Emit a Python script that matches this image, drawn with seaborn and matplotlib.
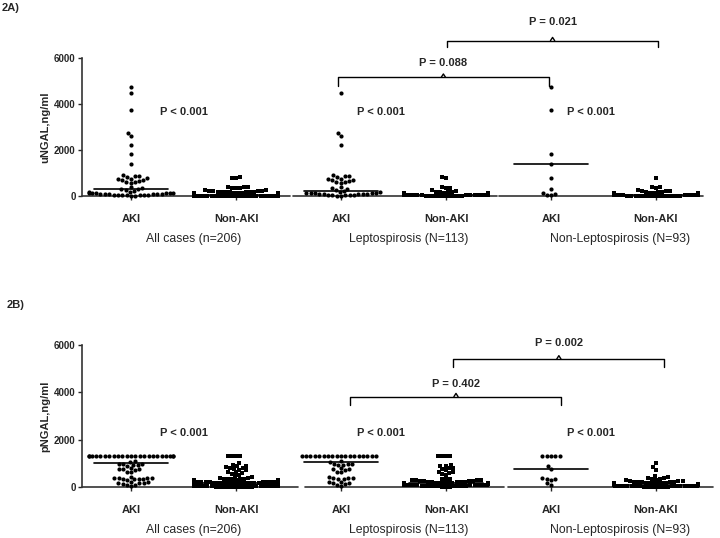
import matplotlib
matplotlib.use("Agg")
import matplotlib.pyplot as plt
import numpy as np
import pandas as pd
import seaborn as sns

# ---- data ----
group_order = ["AKI_all", "NonAKI_all", "AKI_lep", "NonAKI_lep", "AKI_nonlep", "NonAKI_nonlep"]
tick_labels = ["AKI", "Non-AKI", "AKI", "Non-AKI", "AKI", "Non-AKI"]
cohort_labels = ["All cases (n=206)", "Leptospirosis (N=113)", "Non-Leptospirosis (N=93)"]

# urine NGAL (panel 2A)
u_aki_lep = [4465, 2720, 2600, 2220,
             900, 880, 850, 820, 760, 720, 700, 680, 650, 620, 600, 560,
             380, 340, 300, 260,
             200, 180, 160, 150, 140, 130, 120, 110, 100, 95,
             90, 80, 70, 60, 55, 50, 40, 30, 20, 10]
u_aki_nonlep = [4750, 3740, 1830, 1380, 770, 290, 150, 90, 60, 40]
u_nonaki_lep = [810, 790, 370, 350, 330, 250,
                200, 190, 180, 170, 160, 150, 150, 140,
                130, 130, 120, 120, 120, 110, 110, 110, 100, 100,
                100, 100, 90, 90, 90, 90, 85, 85, 80, 80,
                80, 80, 75, 75, 70, 70, 70, 65, 65, 60,
                60, 60, 55, 55, 50, 50, 50, 45, 45, 40,
                40, 40, 35, 35, 30, 30, 30, 25, 25, 20,
                20, 20, 15, 15, 10, 10, 5, 5, 0]
u_nonaki_nonlep = [800, 400, 370, 340, 240, 220, 210, 200,
                   180, 170, 160, 150, 150, 140, 140, 130, 130, 120,
                   120, 120, 110, 110, 110, 100, 100, 100, 100, 95,
                   90, 90, 90, 85, 85, 80, 80, 80, 80, 75,
                   75, 70, 70, 70, 70, 65, 65, 60, 60, 60,
                   60, 55, 55, 50, 50, 50, 45, 45, 40, 40,
                   40, 40, 35, 35, 30, 30, 30, 25, 25, 20,
                   20, 20, 15, 15, 15, 10, 10, 10, 5, 5,
                   5, 0, 0]
u_medians = [290, 60, 230, 60, 1380, 60]

# plasma NGAL (panel 2B)
p_aki_lep = [1300, 1300, 1300, 1300, 1300, 1300, 1300, 1300, 1300,
             1300, 1300, 1300, 1300, 1300, 1300, 1300, 1300, 1300,
             1100, 1050, 990, 970, 960, 950, 940, 800, 760, 740, 720, 650, 620,
             420, 400, 380, 360, 350, 330, 220, 200, 180, 150, 120, 80, 40]
p_aki_nonlep = [1300, 1300, 1300, 1300, 1300, 890, 775, 380, 350, 330, 300, 150, 100]
p_nonaki_lep = [1300, 1300, 1300, 1300,
                950, 900, 880, 820, 800, 760, 700, 650, 620, 600, 550, 500,
                350, 340, 320, 300, 300, 290, 280, 270, 260, 250,
                240, 230, 220, 210, 200, 200, 190, 180, 180, 170,
                160, 160, 150, 150, 140, 140, 130, 130, 120, 120,
                110, 110, 100, 100, 100, 90, 90, 80, 80, 80,
                70, 70, 60, 60, 60, 50, 50, 40, 40, 30,
                30, 20, 20, 10]
p_nonaki_nonlep = [1000, 850, 720, 460, 420, 400, 380, 330, 320, 300,
                   280, 260, 250, 240, 230, 220, 210, 200, 200, 190,
                   180, 170, 160, 160, 150, 150, 140, 140, 130, 130,
                   120, 120, 120, 110, 110, 100, 100, 100, 95, 90,
                   90, 85, 80, 80, 80, 75, 70, 70, 65, 60,
                   60, 60, 55, 50, 50, 45, 40, 40, 40, 35,
                   30, 30, 25, 20, 20, 20, 15, 10, 10, 5]
p_medians = [1030, 150, 1070, 150, 775, 100]

# p-values between neighbouring columns and across cohorts
p_within = ["P < 0.001", "P < 0.001", "P < 0.001"]
p_within_x = [0.5, 2.38, 4.38]
u_brackets = [("P = 0.088", 1.97, 3.98, 5165, 4785, 5785),
              ("P = 0.021", 3.01, 5.02, 6755, 6495, 7570)]
p_brackets = [("P = 0.402", 2.09, 4.10, 3815, 3465, 4350),
              ("P = 0.002", 3.07, 5.08, 5410, 5070, 6085)]


def make_frame(aki_lep, aki_nonlep, nonaki_lep, nonaki_nonlep):
    groups = {
        "AKI_all": aki_lep + aki_nonlep,
        "NonAKI_all": nonaki_lep + nonaki_nonlep,
        "AKI_lep": aki_lep,
        "NonAKI_lep": nonaki_lep,
        "AKI_nonlep": aki_nonlep,
        "NonAKI_nonlep": nonaki_nonlep,
    }
    rows = [(g, v) for g, vals in groups.items() for v in vals]
    df = pd.DataFrame(rows, columns=["group", "value"])
    df["aki"] = df["group"].str.startswith("AKI")
    return df


def draw_panel(ax, df, medians, ylabel, brackets, ptext_y, segments, label_y):
    sns.swarmplot(data=df[df["aki"]], x="group", y="value", order=group_order,
                  color="black", marker="o", size=3.0, warn_thresh=1, ax=ax)
    sns.swarmplot(data=df[~df["aki"]], x="group", y="value", order=group_order,
                  color="black", marker="s", size=2.8, warn_thresh=1, ax=ax)
    for c in ax.collections:
        c.set_clip_on(False)

    # median lines
    for i, m in enumerate(medians):
        ax.plot([i - 0.35, i + 0.35], [m, m], color="black", lw=1.2, zorder=3)

    ax.set_xlim(-0.467, 5.543)
    ax.set_ylim(0, 6000)
    ax.set_yticks([0, 2000, 4000, 6000])
    ax.set_yticklabels(["0", "2000", "4000", "6000"], fontsize=7, fontweight="bold")
    ax.set_xticks(range(6))
    ax.set_xticklabels(tick_labels, fontsize=8, fontweight="bold")
    ax.tick_params(axis="x", length=3, width=1, pad=10, direction="out", bottom=True)
    ax.tick_params(axis="y", length=3, width=1, pad=1.5, direction="out", left=True)
    ax.set_xlabel("")
    ax.set_ylabel(ylabel, fontsize=8, fontweight="bold")
    ax.yaxis.set_label_coords(-0.050, 0.5)

    for side in ["top", "right", "bottom"]:
        ax.spines[side].set_visible(False)
    ax.spines["left"].set_color("#333333")
    ax.spines["left"].set_linewidth(1.2)

    # broken x axis, one piece per cohort
    for x0, x1 in segments:
        ax.plot([x0, x1], [0, 0], color="#333333", lw=1.2, clip_on=False, zorder=1)

    for lab, x in zip(p_within, p_within_x):
        ax.text(x, ptext_y, lab, ha="center", va="center", fontsize=8, fontweight="bold")

    for lab, x1, x2, yh, yend, ty in brackets:
        xm = (x1 + x2) / 2
        ax.plot([x1, x1, x2, x2], [yend, yh, yh, yend], color="black", lw=1, clip_on=False)
        ax.plot([xm - 0.02, xm, xm + 0.02], [yh, yh + 140, yh], color="black", lw=1, clip_on=False)
        ax.text(xm, ty, lab, ha="center", va="center", fontsize=8, fontweight="bold")

    trans = ax.get_xaxis_transform()
    for lab, x in zip(cohort_labels, [0.6, 2.64, 4.66]):
        ax.text(x, label_y, lab, ha="center", va="center", fontsize=8.8, transform=trans)


sns.set_theme(style="white")
plt.rcParams["font.family"] = ["Liberation Sans", "DejaVu Sans"]

fig = plt.figure(figsize=(7.2, 5.38), dpi=100)
ax_a = fig.add_axes([82 / 720, 1 - 196 / 538, 631 / 720, 138 / 538])
ax_b = fig.add_axes([82 / 720, 1 - 487 / 538, 631 / 720, 142 / 538])

df_u = make_frame(u_aki_lep, u_aki_nonlep, u_nonaki_lep, u_nonaki_nonlep)
df_p = make_frame(p_aki_lep, p_aki_nonlep, p_nonaki_lep, p_nonaki_nonlep)

draw_panel(ax_a, df_u, u_medians, "uNGAL,ng/ml", u_brackets, 3650,
           [(-0.467, 1.514), (1.543, 3.486), (3.505, 5.448)], -0.31)
draw_panel(ax_b, df_p, p_medians, "pNGAL,ng/ml", p_brackets, 2290,
           [(-0.467, 1.59), (1.657, 3.552), (3.59, 5.543)], -0.30)

fig.text(2 / 720, 1 - 8 / 538, "2A)", fontsize=8, fontweight="bold", va="center")
fig.text(7 / 720, 1 - 305 / 538, "2B)", fontsize=8, fontweight="bold", va="center")

fig.savefig("out.png", dpi=100)
plt.close(fig)
